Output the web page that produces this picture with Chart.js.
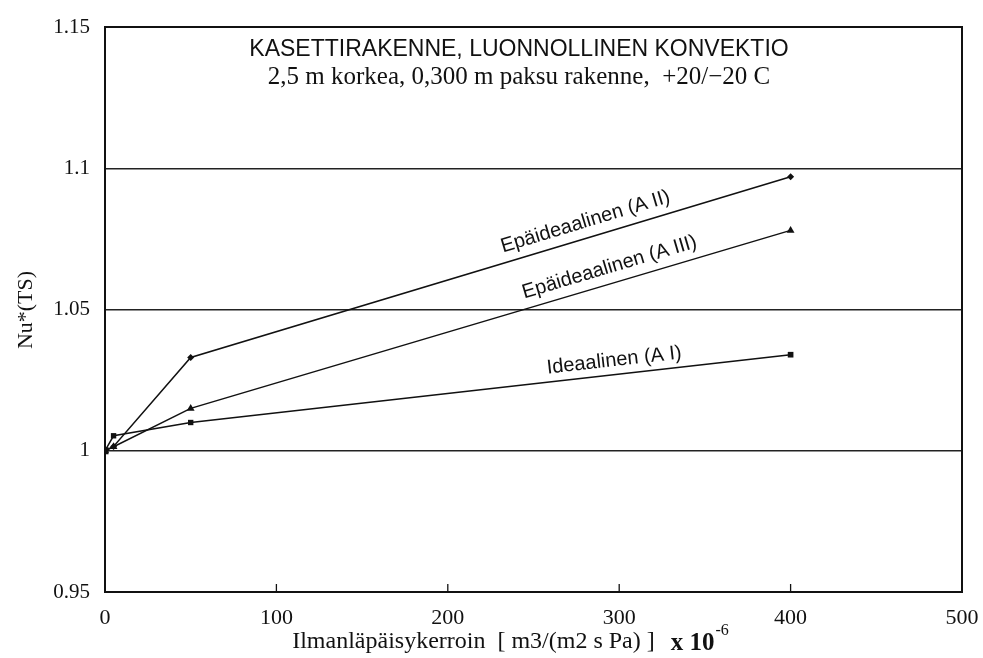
<!DOCTYPE html>
<html>
<head>
<meta charset="utf-8">
<script src="https://cdn.jsdelivr.net/npm/chart.js@4/dist/chart.umd.min.js"></script>
<style>
  html, body { margin: 0; padding: 0; background: #fff; }
  #wrap { width: 983px; height: 658px; }
</style>
</head>
<body>
<div id="wrap"><canvas id="c" width="983" height="658"></canvas></div>
<script>
// Air permeability coefficient (x 10^-6 m3/(m2 s Pa))
const permeability = [0, 5, 50, 400];
// Nu*(TS) for the three cases
const nuIdeal = [1.0, 1.0053, 1.010, 1.034];       // Ideaalinen (A I)
const nuNonIdealII = [1.0, 1.0015, 1.033, 1.097];  // Epäideaalinen (A II)
const nuNonIdealIII = [1.0, 1.0014, 1.015, 1.078]; // Epäideaalinen (A III)

const xTicks = [0, 100, 200, 300, 400, 500];
const yTicks = [0.95, 1.0, 1.05, 1.1, 1.15];

const seriesNames = ['Ideaalinen (A I)', 'Epäideaalinen (A II)', 'Epäideaalinen (A III)'];
// where along each line its name is written (x value) and how far above it
const nameAtX = [298, 283, 297];
const nameLift = [4, 6, 6];

const titleText = 'KASETTIRAKENNE, LUONNOLLINEN KONVEKTIO';
const subtitleText = '2,5 m korkea, 0,300 m paksu rakenne,  +20/\u221220 C';
const xTitleText = 'Ilmanläpäisykerroin  [ m3/(m2 s Pa) ]';
const yTitleText = 'Nu*(TS)';

const toPoints = ys => permeability.map((x, i) => ({ x, y: ys[i] }));

const serif = '"Liberation Serif", "Times New Roman", serif';
const sans = '"Liberation Sans", Arial, sans-serif';
const ink = '#111';

const annotations = {
  id: 'annotations',
  afterDraw(chart) {
    const { ctx, chartArea, scales } = chart;
    const xs = scales.x, ys = scales.y;
    ctx.save();

    // inward tick marks on the x axis
    ctx.strokeStyle = ink;
    ctx.lineWidth = 1.3;
    xTicks.slice(1, -1).forEach(v => {
      const px = xs.getPixelForValue(v);
      ctx.beginPath();
      ctx.moveTo(px, chartArea.bottom);
      ctx.lineTo(px, chartArea.bottom - 8);
      ctx.stroke();
    });

    // titles inside the plot
    const cx = 519;
    ctx.fillStyle = ink;
    ctx.textAlign = 'center';
    ctx.textBaseline = 'middle';
    ctx.font = '23px ' + sans;
    ctx.fillText(titleText, cx, 50);
    ctx.font = '25px ' + serif;
    ctx.fillText(subtitleText, cx, 77);

    // series names written along their lines
    ctx.font = '20px ' + sans;
    chart.data.datasets.forEach((ds, i) => {
      const pts = ds.data;
      const a = pts[2], b = pts[3];
      const x1 = xs.getPixelForValue(a.x), y1 = ys.getPixelForValue(a.y);
      const x2 = xs.getPixelForValue(b.x), y2 = ys.getPixelForValue(b.y);
      const ang = Math.atan2(y2 - y1, x2 - x1);
      const t = (nameAtX[i] - a.x) / (b.x - a.x);
      const yv = a.y + t * (b.y - a.y);
      const px = xs.getPixelForValue(nameAtX[i]);
      const py = ys.getPixelForValue(yv);
      ctx.save();
      ctx.translate(px, py);
      ctx.rotate(ang);
      ctx.textAlign = 'center';
      ctx.textBaseline = 'bottom';
      ctx.fillText(seriesNames[i], 0, -nameLift[i]);
      ctx.restore();
    });

    // x axis title with the power of ten
    ctx.textBaseline = 'alphabetic';
    ctx.textAlign = 'left';
    const baseY = 648;
    ctx.font = '24px ' + serif;
    const w1 = ctx.measureText(xTitleText).width;
    ctx.font = 'bold 25px ' + serif;
    const mult = 'x 10';
    const w2 = ctx.measureText(mult).width;
    ctx.font = '16px ' + serif;
    const sup = '-6';
    const w3 = ctx.measureText(sup).width;
    const gap = 16;
    let sx = 510 - (w1 + gap + w2 + w3) / 2;
    ctx.font = '24px ' + serif;
    ctx.fillText(xTitleText, sx, baseY);
    sx += w1 + gap;
    ctx.font = 'bold 25px ' + serif;
    ctx.fillText(mult, sx, baseY + 2);
    sx += w2 + 1;
    ctx.font = '16px ' + serif;
    ctx.fillText(sup, sx, baseY - 13);

    // y axis title
    ctx.save();
    ctx.translate(26, 310);
    ctx.rotate(-Math.PI / 2);
    ctx.textAlign = 'center';
    ctx.textBaseline = 'middle';
    ctx.font = '22px ' + serif;
    ctx.fillText(yTitleText, 0, 0);
    ctx.restore();

    ctx.restore();
  }
};

new Chart(document.getElementById('c'), {
  type: 'scatter',
  data: {
    datasets: [
      {
        label: seriesNames[0],
        data: toPoints(nuIdeal),
        showLine: true,
        borderColor: ink,
        backgroundColor: ink,
        borderWidth: 1.5,
        pointStyle: 'rect',
        pointRadius: [5, 3.8, 3.8, 4],
        pointBorderWidth: 0
      },
      {
        label: seriesNames[1],
        data: toPoints(nuNonIdealII),
        showLine: true,
        borderColor: ink,
        backgroundColor: ink,
        borderWidth: 1.5,
        pointStyle: 'rectRot',
        pointRadius: 3.5,
        pointBorderWidth: 0
      },
      {
        label: seriesNames[2],
        data: toPoints(nuNonIdealIII),
        showLine: true,
        borderColor: ink,
        backgroundColor: ink,
        borderWidth: 1.5,
        pointStyle: 'triangle',
        pointRadius: 4.5,
        pointBorderWidth: 0
      }
    ]
  },
  options: {
    responsive: false,
    animation: false,
    layout: { padding: { top: 27, right: 21, left: 0, bottom: 0 } },
    plugins: {
      legend: { display: false },
      tooltip: { enabled: false },
      title: { display: false }
    },
    scales: {
      x: {
        type: 'linear',
        min: 0,
        max: 500,
        afterBuildTicks: s => { s.ticks = xTicks.map(v => ({ value: v })); },
        afterFit: s => { s.height = 66; s.paddingRight = 0; s.paddingLeft = 0; },
        border: { display: true, color: ink, width: 2 },
        grid: { display: true, drawOnChartArea: false, drawTicks: false },
        ticks: {
          padding: 13,
          color: ink,
          font: { family: serif, size: 22 },
          maxRotation: 0
        }
      },
      y: {
        type: 'linear',
        min: 0.95,
        max: 1.15,
        afterBuildTicks: s => { s.ticks = yTicks.map(v => ({ value: v })); },
        afterFit: s => { s.width = 105; s.paddingTop = 0; s.paddingBottom = 0; },
        border: { display: true, color: ink, width: 2 },
        grid: { color: '#222', lineWidth: 1.4, drawTicks: false },
        ticks: {
          padding: 15,
          color: ink,
          font: { family: serif, size: 21 },
          callback: v => String(Math.round(v * 100) / 100)
        }
      },
      y2: {
        position: 'right',
        type: 'linear',
        min: 0.95,
        max: 1.15,
        afterFit: s => { s.width = 0; },
        border: { display: true, color: ink, width: 2 },
        grid: { display: false, drawTicks: false },
        ticks: { display: false }
      },
      x2: {
        position: 'top',
        type: 'linear',
        min: 0,
        max: 500,
        afterFit: s => { s.height = 0; s.paddingRight = 0; s.paddingLeft = 0; },
        border: { display: true, color: ink, width: 2 },
        grid: { display: false, drawTicks: false },
        ticks: { display: false }
      }
    }
  },
  plugins: [annotations]
});
</script>
</body>
</html>
